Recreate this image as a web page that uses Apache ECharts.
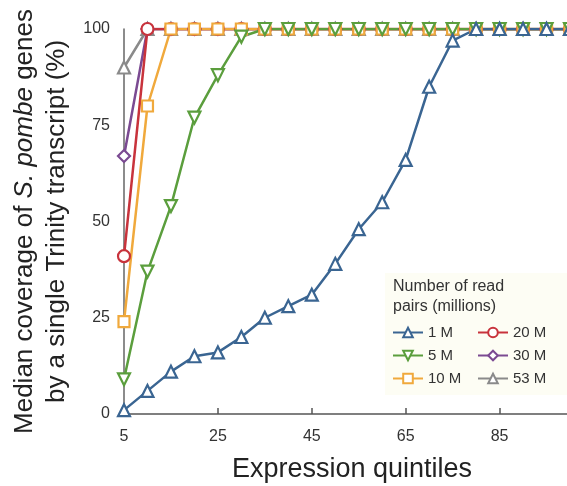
<!DOCTYPE html>
<html>
<head>
<meta charset="utf-8">
<script src="https://cdn.jsdelivr.net/npm/echarts@6/dist/echarts.min.js"></script>
<style>
  html, body { margin: 0; padding: 0; background: #fff; }
  #main { width: 567px; height: 486px; }
</style>
</head>
<body>
<div id="main"></div>
<script>
// x 方向：表达量分位
const quintiles = [5, 10, 15, 20, 25, 30, 35, 40, 45, 50, 55, 60, 65, 70, 75, 80, 85, 90, 95, 100];
const xTicks = [5, 25, 45, 65, 85];

// 各测序深度下的中位覆盖度 (%)
const cov1M = [1, 6, 11, 15, 16, 20, 25, 28, 31, 39, 48, 55, 66, 85, 97, 100, 100, 100, 100, 100];
const cov5M = [9, 37, 54, 77, 88, 98, 100, 100, 100, 100, 100, 100, 100, 100, 100, 100, 100, 100, 100, 100];
const cov10M = [24, 80, 100, 100, 100, 100, 100, 100, 100, 100, 100, 100, 100, 100, 100, 100, 100, 100, 100, 100];
const cov20M = [41, 100, 100, 100, 100, 100, 100, 100, 100, 100, 100, 100, 100, 100, 100, 100, 100, 100, 100, 100];
const cov30M = [67, 100, 100, 100, 100, 100, 100, 100, 100, 100, 100, 100, 100, 100, 100, 100, 100, 100, 100, 100];
const cov53M = [90, 100, 100, 100, 100, 100, 100, 100, 100, 100, 100, 100, 100, 100, 100, 100, 100, 100, 100, 100];

const font = '"Liberation Sans", Arial, sans-serif';

// 画的顺序：先灰色，最后蓝色（蓝色在最上面）
const seriesDefs = [
  { name: '53 M', values: cov53M, color: '#8a8a8a', symbol: 'triangle', rotate: 0, size: 12 },
  { name: '30 M', values: cov30M, color: '#7b4a92', symbol: 'diamond', rotate: 0, size: 12 },
  { name: '20 M', values: cov20M, color: '#c8333c', symbol: 'circle', rotate: 0, size: 12 },
  { name: '10 M', values: cov10M, color: '#f0a93c', symbol: 'rect', rotate: 0, size: 11 },
  { name: '5 M', values: cov5M, color: '#5b9e3d', symbol: 'triangle', rotate: 180, size: 12 },
  { name: '1 M', values: cov1M, color: '#3a6592', symbol: 'triangle', rotate: 0, size: 12 },
];

const series = seriesDefs.map(d => ({
  name: d.name,
  type: 'line',
  data: quintiles.map((q, i) => [q, d.values[i]]),
  symbol: d.symbol,
  symbolRotate: d.rotate,
  symbolSize: d.size,
  showAllSymbol: true,
  lineStyle: { color: d.color, width: 2.5 },
  itemStyle: { color: '#fff', borderColor: d.color, borderWidth: 2.2 },
  emphasis: { disabled: true },
}));

const legendCommon = {
  orient: 'vertical',
  top: 325,
  padding: 0,
  itemWidth: 30,
  itemHeight: 12,
  itemGap: 8,
  textStyle: { fontFamily: font, fontSize: 15, color: '#333' },
  selectedMode: false,
};

const myChart = echarts.init(document.getElementById('main'));
const option = {
  animation: false,
  grid: { left: 124, right: -3, top: 29, bottom: 72, outerBoundsMode: 'none' },
  xAxis: {
    type: 'value',
    min: 5,
    max: 100,
    name: 'Expression quintiles',
    nameLocation: 'middle',
    nameGap: 42,
    nameTextStyle: { fontFamily: font, fontSize: 27, color: '#222', padding: [0, 0, 0, 10] },
    axisLine: { lineStyle: { color: '#555', width: 1.5 } },
    axisTick: { inside: true, length: 6, customValues: xTicks, lineStyle: { color: '#555', width: 1.5 } },
    axisLabel: { customValues: xTicks, fontFamily: font, fontSize: 16, color: '#333', margin: 15 },
    splitLine: { show: false },
  },
  yAxis: {
    type: 'value',
    min: 0,
    max: 100,
    interval: 25,
    name: 'Median coverage of {i|S. pombe} genes\nby a single Trinity transcript (%)',
    nameLocation: 'middle',
    nameGap: 42,
    nameTextStyle: {
      fontFamily: font, fontSize: 26, color: '#222', lineHeight: 32,
      rich: { i: { fontFamily: font, fontSize: 26, fontStyle: 'italic', color: '#222' } },
    },
    axisLine: { show: true, lineStyle: { color: '#666', width: 1.5 } },
    axisTick: { show: false },
    axisLabel: { fontFamily: font, fontSize: 16, color: '#333', margin: 14 },
    splitLine: { show: false },
  },
  legend: [
    Object.assign({ left: 392, data: ['1 M', '5 M', '10 M'] }, legendCommon),
    Object.assign({ left: 477, data: ['20 M', '30 M', '53 M'] }, legendCommon),
  ],
  graphic: [
    {
      type: 'rect',
      z: -1,
      shape: { x: 385, y: 273, width: 190, height: 122 },
      style: { fill: '#fdfdf4' },
    },
    {
      type: 'text',
      x: 393,
      y: 277,
      style: {
        text: 'Number of read\npairs (millions)',
        font: '16px ' + font,
        fill: '#333',
        lineHeight: 20,
      },
    },
  ],
  series,
};
myChart.setOption(option);
</script>
</body>
</html>
